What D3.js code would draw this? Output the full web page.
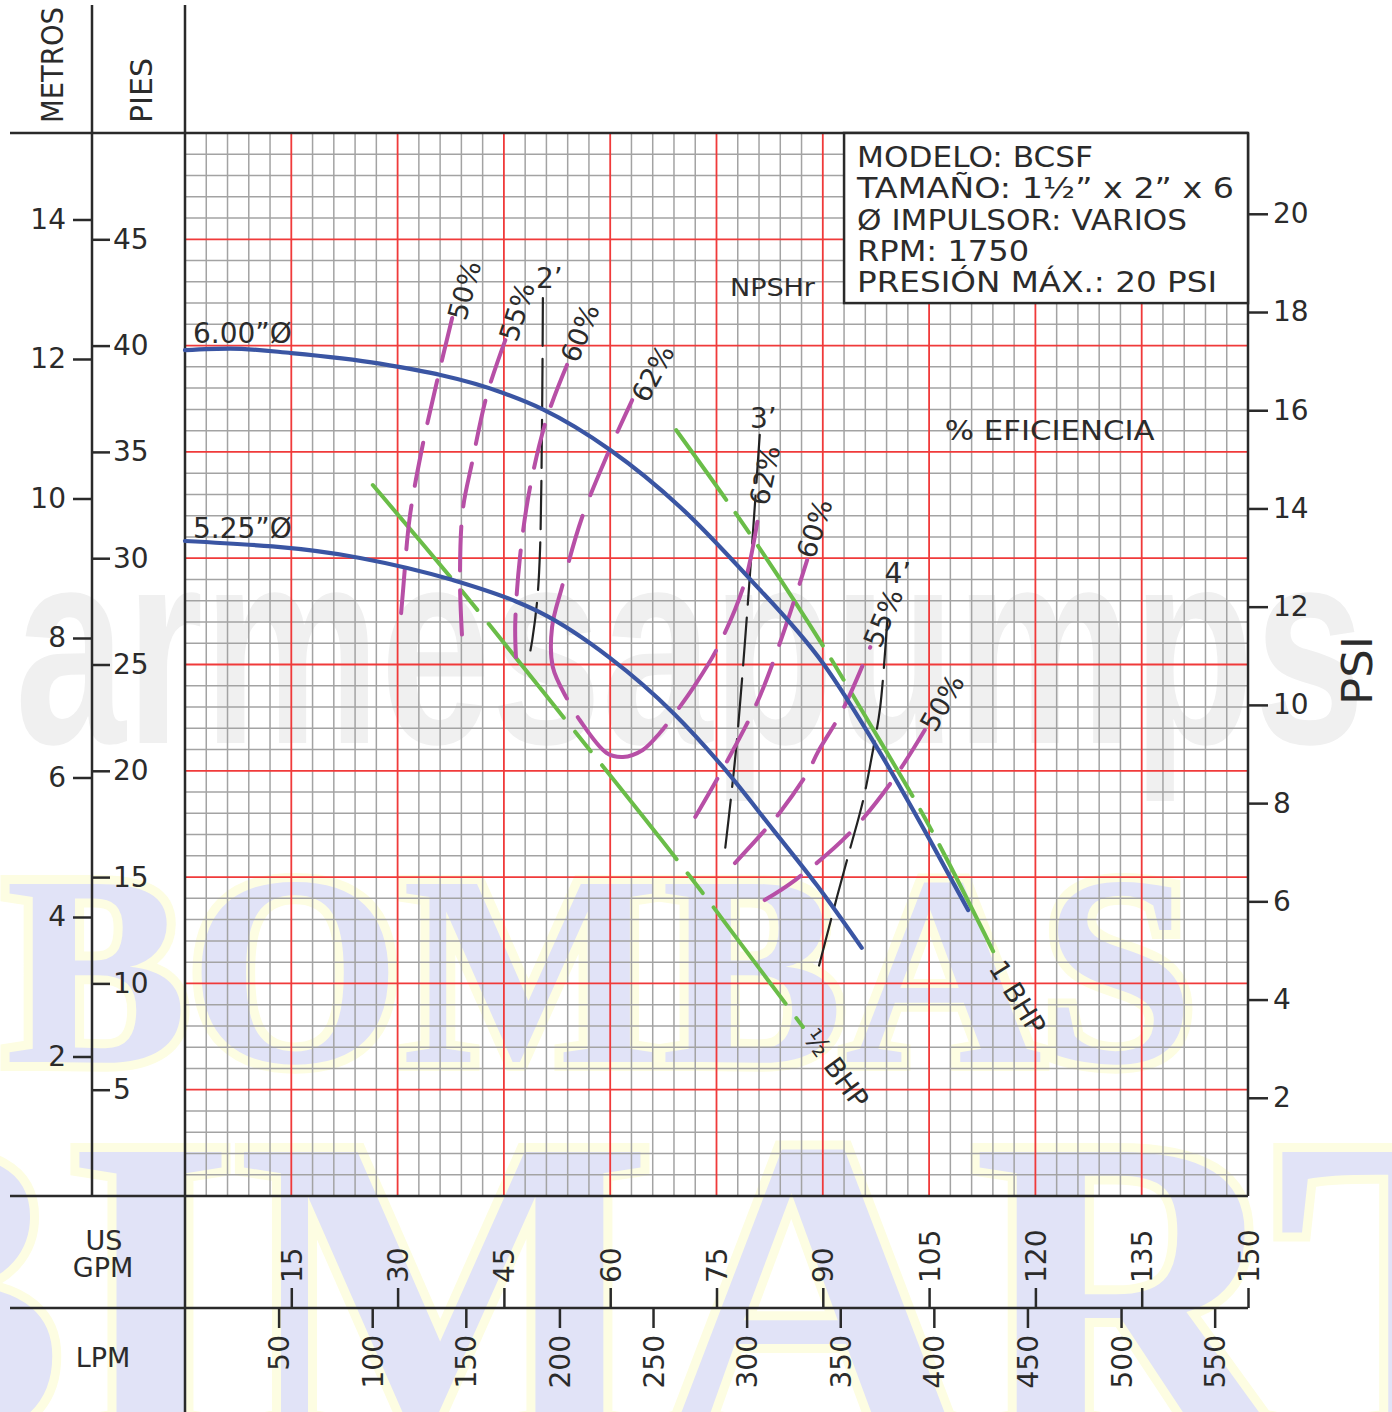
<!DOCTYPE html>
<html>
<head>
<meta charset="utf-8">
<script src="https://cdn.jsdelivr.net/npm/d3@7"></script>
<style>
  body { margin: 0; background: #fff; }
  text { font-family: "DejaVu Sans", sans-serif; fill: #2b2b2b; }
</style>
</head>
<body>
<div id="chart"></div>
<script>
// tick values
const gpmTicks = [15, 30, 45, 60, 75, 90, 105, 120, 135, 150];
const lpmTicks = [50, 100, 150, 200, 250, 300, 350, 400, 450, 500, 550];
const feetTicks = [5, 10, 15, 20, 25, 30, 35, 40, 45];
const meterTicks = [2, 4, 6, 8, 10, 12, 14];
const psiTicks = [2, 4, 6, 8, 10, 12, 14, 16, 18, 20];

// head curves [gpm, ft]
const head600 = [[0, 39.79], [6.4, 39.86], [15, 39.65], [27.5, 39.15], [44.9, 37.77], [50.5, 37.0], [60, 35.09], [69.9, 32.4], [79.5, 29.1], [90, 25.07], [98.1, 20.84], [105.1, 16.75], [110.5, 13.45]];
const head525 = [[0, 30.81], [24.7, 30.01], [37.8, 28.97], [46.8, 27.95], [50.1, 27.45], [60, 25.3], [68.9, 22.72], [75.9, 20.18], [83.0, 17.22], [89.2, 14.6], [95.5, 11.67]];

// power lines
const bhpHalf = [[26.5, 33.44], [37.8, 28.97], [54.3, 22.15], [69.8, 15.66], [87.2, 7.95]];
const bhpOne = [[69.3, 36.03], [80.0, 31.0], [91.0, 25.35], [95.9, 22.62], [104.4, 17.78], [114.3, 11.34]];

// efficiency curves
const eff50L = [[37.7, 41.3], [35.6, 38.38], [33.4, 35.09], [31.7, 31.89], [30.8, 28.6], [30.3, 26.62]];
const eff55L = [[45.2, 40.26], [42.6, 37.68], [40.5, 34.48], [39.2, 32.27], [38.8, 28.97], [39.1, 26.29]];
const eff60L = [[53.9, 39.09], [51.1, 36.64], [48.7, 33.35], [47.3, 30.15], [46.6, 26.95], [46.7, 25.35]];
const eff62 = [[63.1, 37.44], [59.7, 34.95], [56.0, 31.89], [53.2, 28.65], [51.8, 26.76], [51.9, 24.88], [54.0, 23.33], [55.7, 22.39], [59.5, 20.84], [61.8, 20.65], [64.6, 20.98], [67.0, 21.78], [69.8, 23.0], [71.7, 23.9], [75.2, 25.82], [79.0, 28.88], [81.1, 32.41]];
const eff60R = [[72.0, 17.83], [76.2, 20.27], [80.7, 23.19], [84.2, 26.25], [87.8, 29.92]];
const eff55R = [[77.6, 15.66], [82.1, 17.31], [84.0, 18.06], [87.9, 19.94], [89.3, 20.88], [92.8, 22.86], [96.7, 25.82]];
const eff50R = [[81.8, 13.92], [86.1, 14.86], [93.8, 17.07], [99.9, 19.57], [104.4, 21.92]];

// NPSHr
const npsh2 = [[50.5, 42.24], [50.4, 37.11], [50.1, 30.39], [49.7, 28.03], [49.0, 26.15], [48.4, 25.07]];
const npsh3 = [[81.1, 35.8], [80.1, 31.0], [79.0, 26.0], [77.9, 21.5], [77.0, 18.6], [76.2, 16.27]];
const npsh4 = [[99.1, 27.09], [98.1, 23.0], [96.9, 20.65], [95.7, 18.63], [93.8, 16.27], [92.0, 14.06], [89.2, 10.49]];

// labels [text, gpm, ft, angle]
const effLabels = [["50%", 39.4, 42.6, -75], ["55%", 46.8, 41.6, -72], ["60%", 55.7, 40.6, -68], ["62%", 66.0, 38.7, -62],
                   ["62%", 81.8, 33.9, -78], ["60%", 88.8, 31.4, -72], ["55%", 98.5, 27.2, -67], ["50%", 106.8, 23.2, -60]];
const npshLabels = [["2’", 51.4, 43.2], ["3’", 81.6, 36.6], ["4’", 100.6, 29.3]];
const legendLines = ["MODELO:  BCSF", "TAMAÑO:  1½”  x  2”  x  6", "Ø  IMPULSOR:  VARIOS", "RPM:  1750", "PRESIÓN  MÁX.:  20  PSI"];
const legendWidths = [236, 377, 330, 172, 360];

const W = 1392, H = 1412;
const pL = 185, pR = 1248, pT = 133, pB = 1196;

const svg = d3.select("#chart").append("svg").attr("width", W).attr("height", H);

const x = d3.scaleLinear().domain([0, 150]).range([pL, pR]);
const y = d3.scaleLinear().domain([0, 50]).range([pB, pT]);
const yM = d3.scaleLinear().domain([0, 50 / 3.28084]).range([pB, pT]);
const yPsi = d3.scaleLinear().domain([0, 50 / 2.31]).range([pB, pT]);
const xL = d3.scaleLinear().domain([0, 150 * 3.78541]).range([pL, pR]);

// watermarks (behind everything)
const wm = svg.append("g");
wm.append("text").attr("x", 15).attr("y", 743)
    .style("font-family", "'Liberation Sans', Arial, sans-serif").style("font-weight", "bold")
    .style("font-size", "280px").style("fill", "#f0f0f0")
    .attr("textLength", 1350).attr("lengthAdjust", "spacingAndGlyphs")
    .text("armesapumps");
[["BOMBAS", 5, 1062, 272, 1190], ["BIMART", -230, 1440, 440, 1800]].forEach(w => {
  wm.append("text").attr("x", w[1]).attr("y", w[2])
      .style("font-family", "'Liberation Serif', 'Times New Roman', serif").style("font-weight", "bold")
      .style("font-size", w[3] + "px").style("fill", "#e1e3f7")
      .style("stroke", "#fdfde2").style("stroke-width", 18).style("paint-order", "stroke")
      .attr("textLength", w[4]).attr("lengthAdjust", "spacingAndGlyphs")
      .text(w[0]);
});

// grid
const grid = svg.append("g");
const vFine = d3.range(3, 150, 3).filter(v => v % 15 !== 0);
const hFine = d3.range(1, 50, 1).filter(v => v % 5 !== 0);
grid.selectAll(".vf").data(vFine).enter().append("line")
    .attr("x1", d => x(d)).attr("x2", d => x(d)).attr("y1", pT).attr("y2", pB)
    .attr("stroke", "#a3a3a3").attr("stroke-width", 1.5);
grid.selectAll(".hf").data(hFine).enter().append("line")
    .attr("y1", d => y(d)).attr("y2", d => y(d)).attr("x1", pL).attr("x2", pR)
    .attr("stroke", "#a3a3a3").attr("stroke-width", 1.5);
grid.selectAll(".vr").data(gpmTicks.filter(v => v < 150)).enter().append("line")
    .attr("x1", d => x(d)).attr("x2", d => x(d)).attr("y1", pT).attr("y2", pB)
    .attr("stroke", "#f03a3a").attr("stroke-width", 1.8);
grid.selectAll(".hr").data(d3.range(5, 50, 5)).enter().append("line")
    .attr("y1", d => y(d)).attr("y2", d => y(d)).attr("x1", pL).attr("x2", pR)
    .attr("stroke", "#f03a3a").attr("stroke-width", 1.8);

// frame lines
const frame = svg.append("g").attr("stroke", "#2a2a2a").attr("stroke-width", 2.5);
frame.append("line").attr("x1", 10).attr("x2", pR).attr("y1", pT).attr("y2", pT);
frame.append("line").attr("x1", 10).attr("x2", pR).attr("y1", pB).attr("y2", pB);
frame.append("line").attr("x1", 10).attr("x2", pR).attr("y1", 1308).attr("y2", 1308);
frame.append("line").attr("x1", 92).attr("x2", 92).attr("y1", 5).attr("y2", pB);
frame.append("line").attr("x1", pL).attr("x2", pL).attr("y1", 5).attr("y2", H);
frame.append("line").attr("x1", pR).attr("x2", pR).attr("y1", pT).attr("y2", pB);

function styleAxis(g) {
  g.select(".domain").remove();
  g.selectAll(".tick line").attr("stroke", "#2a2a2a").attr("stroke-width", 2.5);
  g.selectAll(".tick text").style("font-size", "28px").style("font-family", "'DejaVu Sans', sans-serif").attr("fill", "#2b2b2b");
}

svg.append("g").attr("transform", "translate(92,0)")
    .call(d3.axisLeft(yM).tickValues(meterTicks).tickSize(19).tickPadding(7)).call(styleAxis);
svg.append("g").attr("transform", "translate(92,0)")
    .call(d3.axisRight(y).tickValues(feetTicks).tickSize(18).tickPadding(3)).call(styleAxis);
svg.append("g").attr("transform", `translate(${pR},0)`)
    .call(d3.axisRight(yPsi).tickValues(psiTicks).tickSize(20).tickPadding(5)).call(styleAxis);

const gx = svg.append("g").attr("transform", "translate(0,1308)")
    .call(d3.axisTop(x).tickValues(gpmTicks).tickSize(20)).call(styleAxis);
gx.selectAll(".tick text").attr("transform", "rotate(-90)").attr("x", 25).attr("y", 0).attr("dy", "0.36em").style("text-anchor", "start");

const gl = svg.append("g").attr("transform", "translate(0,1308)")
    .call(d3.axisBottom(xL).tickValues(lpmTicks).tickSize(20)).call(styleAxis);
gl.selectAll(".tick text").attr("transform", "rotate(-90)").attr("x", -27).attr("y", 0).attr("dy", "0.36em").style("text-anchor", "end");

// axis titles
svg.append("text").attr("transform", "translate(63,123) rotate(-90)").style("font-size", "30px")
    .attr("textLength", 116).attr("lengthAdjust", "spacingAndGlyphs").text("METROS");
svg.append("text").attr("transform", "translate(152,123) rotate(-90)").style("font-size", "30px")
    .attr("textLength", 65).attr("lengthAdjust", "spacingAndGlyphs").text("PIES");
svg.append("text").attr("transform", "translate(1372,705) rotate(-90)").style("font-size", "42px")
    .attr("textLength", 69).attr("lengthAdjust", "spacingAndGlyphs").text("PSI");
svg.append("text").attr("x", 104).attr("y", 1250).attr("text-anchor", "middle").style("font-size", "27px").text("US");
svg.append("text").attr("x", 103).attr("y", 1277).attr("text-anchor", "middle").style("font-size", "27px").text("GPM");
svg.append("text").attr("x", 103).attr("y", 1367).attr("text-anchor", "middle").style("font-size", "27px").text("LPM");

// curves
const lineSmooth = d3.line().x(d => x(d[0])).y(d => y(d[1])).curve(d3.curveMonotoneX);
const lineFree = d3.line().x(d => x(d[0])).y(d => y(d[1])).curve(d3.curveCatmullRom.alpha(0.5));
const plot = svg.append("g").attr("fill", "none").attr("stroke-linecap", "round");

function curve(data, gen, color, width, dash, offset) {
  plot.append("path").datum(data).attr("d", gen)
      .attr("stroke", color).attr("stroke-width", width)
      .attr("stroke-dasharray", dash).attr("stroke-dashoffset", offset || 0);
}

const GREEN = "#6abd48", MAG = "#b74fa6", BLUE = "#3a55a3", BLK = "#222";
curve(bhpHalf, lineSmooth, GREEN, 4, "120,18,25,18");
curve(bhpOne, lineSmooth, GREEN, 4, "119,16,24,16", 33);
[npsh2, npsh3, npsh4].forEach(d => curve(d, lineFree, BLK, 2.2, "48,13"));
[eff50L, eff55L, eff60L, eff60R, eff55R, eff50R].forEach(d => curve(d, lineFree, MAG, 4, "44,20"));
curve(eff62, lineFree, MAG, 4, "35,22,47,22,47,25,118,22,118,22,68,20,48,14,54");
curve(head600, lineSmooth, BLUE, 4.2, null);
curve(head525, lineSmooth, BLUE, 4.2, null);

// labels
const lab = svg.append("g");
effLabels.forEach(l => {
  lab.append("text").attr("transform", `translate(${x(l[1])},${y(l[2])}) rotate(${l[3]})`)
      .attr("text-anchor", "middle").attr("dy", "0.36em").style("font-size", "27px").text(l[0]);
});
npshLabels.forEach(l => {
  lab.append("text").attr("x", x(l[1])).attr("y", y(l[2])).attr("text-anchor", "middle")
      .attr("dy", "0.36em").style("font-size", "28px").text(l[0]);
});
lab.append("text").attr("x", x(1.13)).attr("y", y(40.12)).style("font-size", "28px").text("6.00”Ø");
lab.append("text").attr("x", x(1.13)).attr("y", y(30.95)).style("font-size", "28px").text("5.25”Ø");
lab.append("text").attr("x", x(76.9)).attr("y", y(42.33)).style("font-size", "25px")
    .attr("textLength", 85).attr("lengthAdjust", "spacingAndGlyphs").text("NPSHr");
lab.append("text").attr("x", x(107.2)).attr("y", y(35.56)).style("font-size", "26px")
    .attr("textLength", 210).attr("lengthAdjust", "spacingAndGlyphs").text("%  EFICIENCIA");
lab.append("text").attr("transform", `translate(${x(117.5)},${y(9.35)}) rotate(58)`)
    .attr("text-anchor", "middle").attr("dy", "0.36em").style("font-size", "27px").text("1  BHP");
lab.append("text").attr("transform", `translate(${x(91.9)},${y(6.0)}) rotate(54)`)
    .attr("text-anchor", "middle").attr("dy", "0.36em").style("font-size", "27px").text("½  BHP");

// info box
const bx = x(93), by = y(50), bw = x(150) - x(93), bh = y(42) - y(50);
const box = svg.append("g");
box.append("rect").attr("x", bx).attr("y", by).attr("width", bw).attr("height", bh)
    .attr("fill", "#fff").attr("stroke", "#2a2a2a").attr("stroke-width", 2.5);
legendLines.forEach((t, i) => {
  box.append("text").attr("x", bx + 13).attr("y", by + 34 + i * 31.3)
      .style("font-size", "29px").attr("textLength", legendWidths[i]).attr("lengthAdjust", "spacingAndGlyphs")
      .text(t);
});
</script>
</body>
</html>
